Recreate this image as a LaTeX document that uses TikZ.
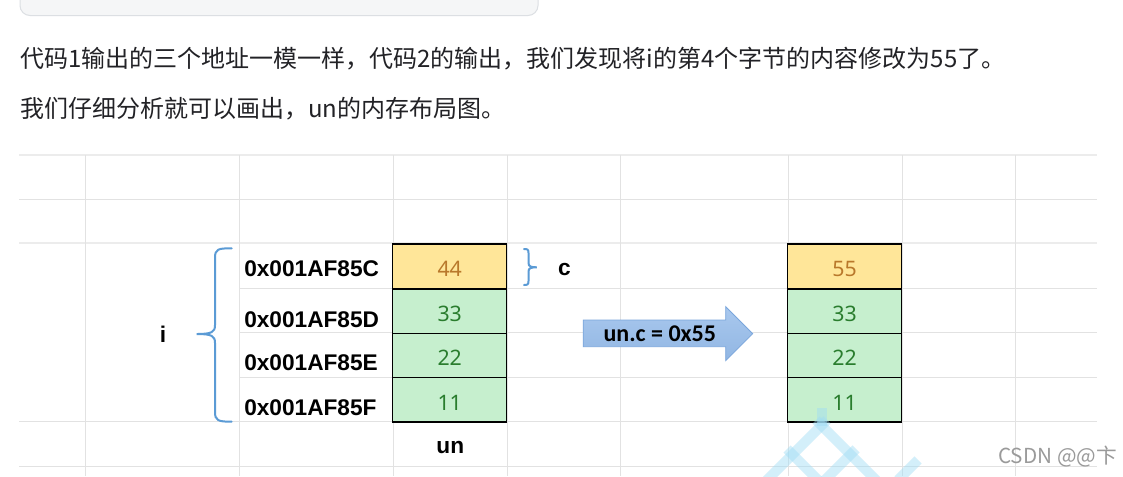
\documentclass[tikz,border=0pt]{standalone}
\usepackage{fontspec}
\setmainfont{Liberation Sans}
\newfontfamily\cjk{Noto Sans CJK SC}
\newfontfamily\calib{Carlito}
\newfontfamily\numf{Noto Sans}
\definecolor{gridc}{HTML}{E2E2E2}
\definecolor{gridl}{HTML}{ECECEC}
\definecolor{txt}{HTML}{222226}
\definecolor{codebg}{HTML}{F5F6F7}
\definecolor{codeln}{HTML}{DCDFE3}
\definecolor{yel}{HTML}{FFE699}
\definecolor{grn}{HTML}{C6EFCE}
\definecolor{brn}{HTML}{B9782B}
\definecolor{dgrn}{HTML}{2A7D2E}
\definecolor{bluebr}{HTML}{5B9BD5}
\definecolor{arrtop}{HTML}{A9C8EE}
\definecolor{arrbot}{HTML}{91B6E3}
\definecolor{arrln}{HTML}{7AA6DC}
\definecolor{wmark}{HTML}{9FDCF5}
\definecolor{wmtxt}{HTML}{9A9A9A}
\begin{document}
\begin{tikzpicture}[x=0.75pt,y=-0.75pt,
  gridline/.style={draw=gridc,line width=0.75pt},
  gridthick/.style={draw=gridl,line width=1.5pt},
  cellbox/.style={draw=black,line width=1.1pt,minimum width=85.5pt,inner xsep=0pt,inner ysep=0pt,
    text height=24.4pt,text depth=8.85pt,anchor=north,font=\numf\fontsize{16}{16}\selectfont},
  ycell/.style={cellbox,fill=yel,text=brn},
  gcell/.style={cellbox,fill=grn,text=dgrn},
  addr/.style={anchor=base west,inner sep=0pt,font=\bfseries\fontsize{17}{17}\selectfont,text=black},
  lbl/.style={anchor=base,inner sep=0pt,font=\bfseries\fontsize{17}{17}\selectfont,text=black},
  para/.style={anchor=west,inner sep=0pt,font=\cjk\fontsize{18}{18}\selectfont,text=txt},
  brace/.style={draw=bluebr,line width=1.5pt,line cap=round},
  wm/.style={draw=wmark,opacity=0.45,line width=7.5pt}
]
\useasboundingbox (0,0) rectangle (1123,476);
\clip (0,0) rectangle (1123,476);
\fill[white] (0,0) rectangle (1123,476);

% code block remnant
\draw[draw=codeln,fill=codebg,line width=0.75pt,rounded corners=7.5pt] (20,-30) rectangle (538,15.5);

% paragraph text
\node[para] (t1) at (20,59) {代码1输出的三个地址一模一样，代码2的输出，我们发现将i的第4个字节的内容修改为55了。};
\node[para] (t2) at (20,109) {我们仔细分析就可以画出，un的内存布局图。};

% spreadsheet grid
\foreach \y in {199,421.5,466} \draw[gridline] (19,\y) -- (1097,\y);
\foreach \y in {155,243.3} \draw[gridthick] (19,\y) -- (1097,\y);
\foreach \y in {288.3,332.7,377} \draw[gridline] (239.5,\y) -- (1097,\y);
\foreach \x in {85.5,239.5,393,507,620.5,788,902,1015.5} \draw[gridline] (\x,155) -- (\x,476);

% left memory column
\node[ycell] (a1) at (449.7,243.3) {44};
\node[gcell] (a2) at (449.7,288.3) {33};
\node[gcell] (a3) at (449.7,332.7) {22};
\node[gcell] (a4) at (449.7,377) {11};

% right memory column
\node[ycell] (b1) at (844.5,243.3) {55};
\node[gcell] (b2) at (844.5,288.3) {33};
\node[gcell] (b3) at (844.5,332.7) {22};
\node[gcell] (b4) at (844.5,377) {11};

% addresses
\node[addr] (ad1) at (244,276) {0x001AF85C};
\node[addr] (ad2) at (244,327) {0x001AF85D};
\node[addr] (ad3) at (244,370) {0x001AF85E};
\node[addr] (ad4) at (244,415) {0x001AF85F};

% labels
\node[lbl] (li) at (163,342.5) {i};
\node[lbl] (lc) at (564.5,275.5) {c};
\node[lbl] (lun) at (450.3,453.3) {un};

% braces
\draw[brace] (231.7,248.3) .. controls (218,248.3) and (215,249) .. (215,258)
  -- (215,325) .. controls (215,332) and (212,334) .. (196.7,334)
  .. controls (212,334) and (215,336) .. (215,343)
  -- (215,412) .. controls (215,420.5) and (218,421.7) .. (231.7,421.7);
\draw[brace] (524,249) .. controls (527.5,249) and (528.5,249.5) .. (528.5,253)
  -- (528.5,263) .. controls (528.5,266.5) and (531,267.3) .. (536.7,267.3)
  .. controls (531,267.3) and (528.5,268) .. (528.5,271.5)
  -- (528.5,281) .. controls (528.5,284.5) and (527.5,285) .. (524,285);

% block arrow
\path[top color=arrtop,bottom color=arrbot,draw=arrln,line width=0.6pt]
  (583.3,320) -- (725.7,320) -- (725.7,306.7) -- (752.7,333.7) -- (725.7,360.7)
  -- (725.7,346.7) -- (583.3,346.7) -- cycle;
\node[anchor=base,inner sep=0pt,font=\calib\bfseries\fontsize{18}{18}\selectfont,text=black] (op) at (659.8,341.7) {un.c = 0x55};

% watermark
\begin{scope}[wm]
  \draw (821.5,408) -- (821.5,426);
  \draw (816,420) -- (886,490);
  \draw (827,420) -- (757,490);
  \draw (787,449) -- (827,489);
  \draw (856,449) -- (816,489);
  \draw (918,460) -- (898,480);
\end{scope}
\node[anchor=base west,inner sep=0pt,font=\cjk\fontsize{15.5}{15.5}\selectfont,text=wmtxt] (wm) at (998,463.3) {CSDN @@卞};
\end{tikzpicture}
\end{document}
